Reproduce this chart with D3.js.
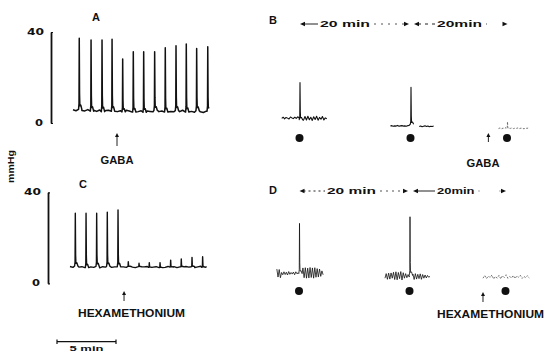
<!DOCTYPE html>
<html>
<head>
<meta charset="utf-8">
<script src="https://cdn.jsdelivr.net/npm/d3@7/dist/d3.min.js"></script>
<style>
  html, body { margin: 0; padding: 0; background: #fff; }
  svg { display: block; font-family: "Liberation Sans", Arial, sans-serif; font-weight: bold; }
</style>
</head>
<body>
<svg id="fig" width="544" height="352"></svg>
<script>
// chart speed of the recorder (px per minute), from the 5 min scale bar
const PX_PER_MIN = 11.8;

// ---- panel A (GABA), pressure in mmHg, time in min ----
const aSpan = [0, 11.55];
const aSpikeT = [0.53, 1.53, 2.46, 3.31, 4.21, 5.11, 5.99, 6.92, 7.82, 8.73, 9.6, 10.48, 11.42];
const aSpikeP = [37.2, 36.5, 36.5, 36.8, 28.1, 31.3, 31.3, 31.3, 33.1, 34.0, 34.7, 32.8, 33.5];
const aBase = [5.8, 5.4, 6.0, 5.5, 5.3, 5.9, 5.2, 5.6, 5.1, 5.7, 5.0, 5.5, 5.6, 5.2, 5.8, 5.0,
  5.4, 4.9, 5.6, 5.3, 4.8, 5.5, 5.0, 5.4, 4.7, 5.3, 5.1, 4.9, 5.6, 5.0, 5.3, 4.8,
  5.5, 5.1, 4.9, 5.4, 5.0, 5.6, 4.8, 5.3, 5.1, 4.7, 5.4, 4.9, 4.6, 5.2, 5.5];
const aDrugT = 3.73;

// ---- panel C (hexamethonium) ----
const cSpan = [0, 11.58];
const cSpikeT = [0.45, 1.36, 2.26, 3.16, 4.07, 4.94, 5.85, 6.72, 7.63, 8.53, 9.43, 10.34, 11.24];
const cSpikeP = [30.8, 30.8, 30.8, 31.2, 32.2, 9.5, 8.8, 9.1, 9.1, 10.2, 10.7, 11.4, 11.7];
const cBase = [7.4, 7.0, 7.6, 7.1, 7.3, 6.9, 7.5, 7.2, 7.0, 7.4, 6.8, 7.3, 7.1, 7.5, 7.0, 7.2,
  7.3, 6.9, 7.2, 7.0, 7.4, 7.1, 6.9, 7.3, 7.0, 7.2, 7.4, 7.0, 7.1, 7.3, 6.9, 7.2,
  7.0, 7.4, 7.1, 7.3, 6.9, 7.2, 7.0, 7.4, 7.1, 7.3, 6.9, 7.2, 7.5, 7.0, 7.3];
const cDrugT = 4.58;

// ---- panels B and D: three short recordings 20 min apart ----
const sessionT = [0, 20, 40];
const intervalLabels = ['20 min', '20min'];

const b1Span = [-1.55, 2.27], b1Spike = [21.7];
const b1Base = [6.0, 6.5, 5.8, 6.4, 6.1, 5.7, 6.6, 6.2, 5.9, 6.5, 6.0, 6.7, 6.2, 5.4, 6.6, 5.2,
  6.8, 5.3, 6.9, 5.4, 6.5, 5.1, 6.7, 5.5, 6.9, 5.2, 6.4, 5.6, 6.8, 5.3, 6.2, 5.8];
const b2Span = [-1.75, 1.92], b2Spike = [19.7];
const b2Base = [2.6, 2.8, 2.5, 2.7, 2.6, 2.9, 2.5, 2.7, 2.8, 2.6, 2.7, 2.5, 2.8, 2.9, 3.4, 3.0,
  null, null, null, null, 2.4, 2.6, 2.3, 2.5, 2.7, 2.4, 2.6, 2.3, 2.5, 2.4, 2.6];
const b3Span = [-0.76, 1.78], b3Spike = [4.5];
const b3Base = [1.5, 1.8, 1.4, 1.7, 1.6, 1.9, 1.5, 1.7, 1.6, 1.8, 1.5, 1.7, 1.6, 1.8, 1.5, 1.7,
  1.6, 1.4, 1.7, 1.6, 1.8];
const bDrugT = -1.62;

const d1Span = [-1.92, 2.0], d1Spike = [27.1];
const d1Base = [7.0, 3.5, 6.8, 3.2, 5.5, 4.5, 5.8, 4.6, 5.6, 4.4, 5.9, 4.7, 5.5, 4.8, 5.7, 4.5,
  5.8, 4.9, 5.4, 5.0, 7.3, 3.0, 7.5, 3.2, 7.6, 3.0, 7.4, 3.1, 7.7, 3.3, 7.5, 3.0,
  7.6, 3.4, 7.2, 3.5, 7.0, 3.8, 6.2, 4.5];
const d2Span = [-2.12, 1.69], d2Spike = [30.0];
const d2Base = [3.0, 5.0, 2.5, 5.2, 2.6, 5.3, 3.0, 5.6, 2.4, 5.8, 2.3, 5.5, 2.8, 5.9, 2.2, 5.4,
  3.0, 5.0, 3.2, 4.6, 3.5, 4.2, 2.9, 4.8, 2.4, 5.0, 2.6, 4.7, 2.8, 4.9, 2.5, 4.6,
  3.0, 4.4, 3.1, 4.2, 3.4, 3.8];
const d3Span = [-1.95, 1.97], d3Spike = [];
const d3Base = [3.0, 4.2, 2.8, 4.0, 3.2, 4.4, 2.6, 3.8, 3.0, 4.3, 2.7, 4.1, 3.3, 4.5, 2.9, 3.7,
  3.1, 4.2, 2.8, 4.0, 3.4, 4.3, 2.9, 3.8, 3.2, 4.1, 3.0];
const dDrugT = -1.95;

const yTicks = [0, 40];

// shape of one contraction: [dt (min), fraction of the rise]
const SPIKE_SHAPE = [[-0.06, 0], [-0.02, 0.08], [0, 1], [0.025, 0.22], [0.05, 0.05], [0.13, 0.06], [0.22, 0]];

function buildTrace(span, base, spikeT, spikeP) {
  const [t0, t1] = span, n = base.length, dt = (t1 - t0) / (n - 1);
  let pts = base.map((v, i) => [t0 + i * dt, v]);
  const baseAt = t => {
    const i = Math.max(0, Math.min(n - 1, Math.round((t - t0) / dt)));
    return base[i] != null ? base[i] : d3.mean(base);
  };
  spikeT.forEach((ts, k) => {
    const b = baseAt(ts), p = spikeP[k];
    const lo = ts + SPIKE_SHAPE[0][0], hi = ts + SPIKE_SHAPE[SPIKE_SHAPE.length - 1][0];
    pts = pts.filter(([t]) => t < lo || t > hi);
    SPIKE_SHAPE.forEach(([d, f]) => {
      const t = ts + d;
      if (t >= t0 && t <= t1) pts.push([t, b + f * (p - b)]);
    });
  });
  return pts.sort((a, b) => a[0] - b[0]);
}

const svg = d3.select('#fig');

function label(x, y, txt, size, len, anchor) {
  const t = svg.append('text')
    .attr('x', x).attr('y', y)
    .attr('font-size', size)
    .attr('text-anchor', anchor || 'middle')
    .attr('fill', '#111')
    .text(txt);
  if (len) t.attr('textLength', len).attr('lengthAdjust', 'spacingAndGlyphs');
  return t;
}

function upArrow(x, yTop, yBot) {
  svg.append('line').attr('x1', x).attr('x2', x).attr('y1', yTop + 2).attr('y2', yBot)
    .attr('stroke', '#222').attr('stroke-width', 1);
  svg.append('path').attr('d', `M${x},${yTop} l-2,4 l4,0 z`).attr('fill', '#111');
}

function yAxis(y, x, labelShift) {
  const g = svg.append('g').attr('transform', `translate(${x},0)`)
    .call(d3.axisLeft(y).tickValues(yTicks).tickSize(3).tickSizeOuter(0).tickPadding(3));
  g.select('.domain').attr('stroke', '#111').attr('stroke-width', 1.8);
  g.selectAll('.tick line').attr('x2', 2).attr('stroke', '#111').attr('stroke-width', 1.2);
  g.selectAll('.tick text')
    .attr('font-family', '"DejaVu Sans", sans-serif')
    .attr('font-weight', 'bold')
    .attr('font-size', 8)
    .attr('fill', '#111')
    .attr('dx', d => d === 0 ? -labelShift : -1)
    .attr('textLength', d => d === 0 ? 8 : 17)
    .attr('lengthAdjust', 'spacingAndGlyphs');
}

const traceLine = (x, y) => d3.line()
  .defined(d => d[1] != null)
  .x(d => x(d[0]))
  .y(d => y(d[1]));

// ---- panel A ----
const xA = d3.scaleLinear().domain(aSpan).range([73, 73 + (aSpan[1] - aSpan[0]) * PX_PER_MIN]);
const yA = d3.scaleLinear().domain([0, 40]).range([123, 32]);
yAxis(yA, 51, 2);
svg.append('path')
  .datum(buildTrace(aSpan, aBase, aSpikeT, aSpikeP))
  .attr('d', traceLine(xA, yA))
  .attr('fill', 'none').attr('stroke', '#111').attr('stroke-width', 1.5).attr('stroke-linejoin', 'round');
label(96, 21, 'A', 11);
upArrow(xA(aDrugT), 133, 146);
label(xA(aDrugT), 164, 'GABA', 10, 33);

// ---- panel C ----
const xC = d3.scaleLinear().domain(cSpan).range([70, 70 + (cSpan[1] - cSpan[0]) * PX_PER_MIN]);
const yC = d3.scaleLinear().domain([0, 40]).range([283.3, 192.3]);
yAxis(yC, 48, 2);
svg.append('path')
  .datum(buildTrace(cSpan, cBase, cSpikeT, cSpikeP))
  .attr('d', traceLine(xC, yC))
  .attr('fill', 'none').attr('stroke', '#111').attr('stroke-width', 1.4).attr('stroke-linejoin', 'round');
label(83, 188, 'C', 11);
upArrow(xC(cDrugT), 291, 301);
label(131.5, 317, 'HEXAMETHONIUM', 10.5, 107);

// y label
svg.append('text')
  .attr('transform', 'translate(13.5,166.5) rotate(-90)')
  .attr('text-anchor', 'middle')
  .attr('font-size', 8.5).attr('fill', '#111')
  .attr('textLength', 33).attr('lengthAdjust', 'spacingAndGlyphs')
  .text('mmHg');

// 5 min scale bar
const xBar = d3.scaleLinear().domain([0, 5]).range([57, 57 + 5 * PX_PER_MIN]);
svg.append('line').attr('x1', xBar(0)).attr('x2', xBar(5)).attr('y1', 341.7).attr('y2', 341.7)
  .attr('stroke', '#111').attr('stroke-width', 1.3);
[0, 5].forEach(v => svg.append('line').attr('x1', xBar(v)).attr('x2', xBar(v))
  .attr('y1', 339.5).attr('y2', 344).attr('stroke', '#111').attr('stroke-width', 1.2));
label(xBar(2.5), 351, '5 min', 8, 34);

// ---- panels B and D ----
function interval(sx, y, textStarts, textLens, dashes) {
  sessionT.slice(0, -1).forEach((s, i) => {
    const x0 = sx(s) + (i === 0 ? 0 : 3), x1 = sx(sessionT[i + 1]) - (i === 0 ? 2 : 0);
    const ts = textStarts[i], te = ts + textLens[i];
    svg.append('line').attr('x1', x0 + 4).attr('x2', ts - 2).attr('y1', y).attr('y2', y)
      .attr('stroke', '#222').attr('stroke-width', 1).attr('stroke-dasharray', dashes[i][0]);
    svg.append('line').attr('x1', te + 4).attr('x2', x1 - 4).attr('y1', y).attr('y2', y)
      .attr('stroke', '#555').attr('stroke-width', 1).attr('stroke-dasharray', dashes[i][1]);
    svg.append('path').attr('d', `M${x0},${y} l5,-2.2 l0,4.4 z`).attr('fill', '#111');
    svg.append('path').attr('d', `M${x1},${y} l-5,-2.2 l0,4.4 z`).attr('fill', '#111');
    label(ts, y + 3, intervalLabels[i], 9, textLens[i], 'start');
  });
}

function segments(sx, y, specs, width) {
  specs.forEach(([span, base, spike, s, faint]) => {
    const x = d3.scaleLinear().domain([0, 1]).range([sx(s), sx(s) + PX_PER_MIN]);
    svg.append('path')
      .datum(buildTrace(span, base, spike.length ? [0] : [], spike))
      .attr('d', traceLine(x, y))
      .attr('fill', 'none')
      .attr('stroke', faint ? '#666' : '#111')
      .attr('stroke-width', faint ? 0.9 : width)
      .attr('stroke-dasharray', faint ? '2,1.5' : null)
      .attr('stroke-linejoin', 'round');
    svg.append('circle').attr('cx', sx(s) - 0.5).attr('cy', y(0) + 6).attr('r', 4).attr('fill', '#111');
  });
}

// B
const sxB = d3.scaleLinear().domain(sessionT).range([300, 411, 507.5]);
const yB = d3.scaleLinear().domain([0, 40]).range([132, 41]);
label(273, 24, 'B', 11);
interval(sxB, 24, [320, 437], [50, 45], [[null, '2,5'], ['3,4', '1,20']]);
segments(sxB, yB, [
  [b1Span, b1Base, b1Spike, sessionT[0], false],
  [b2Span, b2Base, b2Spike, sessionT[1], false],
  [b3Span, b3Base, b3Spike, sessionT[2], true]
], 1.1);
upArrow(sxB(sessionT[2]) + bDrugT * PX_PER_MIN, 133, 142);
label(483, 167, 'GABA', 10, 33);

// D
const sxD = d3.scaleLinear().domain(sessionT).range([299.5, 410, 506]);
const yD = d3.scaleLinear().domain([0, 40]).range([285, 194]);
label(273, 194, 'D', 11);
interval(sxD, 191, [327, 437], [49, 37.5], [['2,3', '2,4'], [null, '1,20']]);
segments(sxD, yD, [
  [d1Span, d1Base, d1Spike, sessionT[0], false],
  [d2Span, d2Base, d2Spike, sessionT[1], false],
  [d3Span, d3Base, d3Spike, sessionT[2], true]
], 0.8);
upArrow(sxD(sessionT[2]) + dDrugT * PX_PER_MIN, 292, 302);
label(437, 318, 'HEXAMETHONIUM', 10.5, 107, 'start');
</script>
</body>
</html>
